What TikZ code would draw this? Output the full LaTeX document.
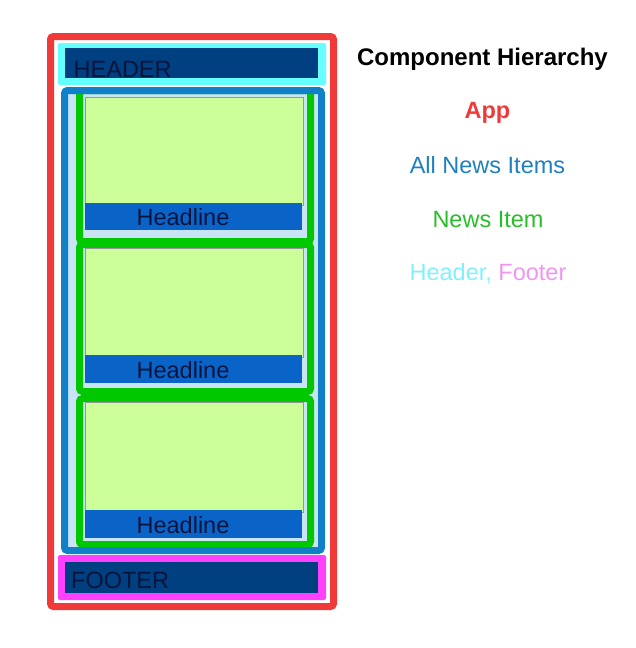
\documentclass[tikz,border=0pt]{standalone}
\usepackage{fontspec}
\setmainfont{Liberation Sans}
\definecolor{appred}{RGB}{240,58,58}
\definecolor{hdrcyan}{RGB}{102,255,255}
\definecolor{barnavy}{RGB}{0,64,128}
\definecolor{listblue}{RGB}{16,128,200}
\definecolor{listfill}{RGB}{200,228,245}
\definecolor{itemgreen}{RGB}{0,200,0}
\definecolor{panelgreen}{RGB}{204,255,153}
\definecolor{panelgray}{RGB}{150,150,150}
\definecolor{headblue}{RGB}{10,100,200}
\definecolor{inktext}{RGB}{10,20,60}
\definecolor{ftrmagenta}{RGB}{255,64,255}
\definecolor{lblblue}{RGB}{30,128,192}
\definecolor{lblgreen}{RGB}{40,190,40}
\definecolor{lblcyan}{RGB}{128,240,255}
\definecolor{lblpink}{RGB}{240,150,240}
\tikzset{
  bigtext/.style={font=\fontsize{23.5}{28}\selectfont, inner sep=0pt},
  appframe/.style={draw=appred, line width=7pt, rounded corners=3pt, fill=white},
  listframe/.style={draw=listblue, line width=7pt, rounded corners=3pt},
  itemframe/.style={draw=itemgreen, line width=7pt, rounded corners=3pt, fill=listfill},
  panel/.style={fill=panelgreen, draw=panelgray, line width=1pt},
  headbar/.style={fill=headblue},
  label/.style={bigtext, anchor=base}
}
\begin{document}
\begin{tikzpicture}[x=1pt,y=-1pt]
  \useasboundingbox (0,0) rectangle (636,648);

  % App frame
  \draw[appframe] (50.5,36.5) rectangle (333.5,606.5);

  % Header
  \fill[hdrcyan, rounded corners=2pt] (58,43) rectangle (326,85);
  \fill[barnavy] (65,48) rectangle (318,78);
  \node[bigtext, anchor=base west, text=inktext] (header) at (73.5,77) {HEADER};

  % All news items: background first, border on top of the items
  \fill[listfill, rounded corners=3pt] (64.5,90.5) rectangle (321.5,550.5);

  % News items: top, bottom, panel top, bar top, bar bottom
  \foreach \i/\t/\b/\p/\hb/\hz in {1/90.5/241.5/97/203/230, 2/244.5/391.5/248/355/383, 3/398.5/544.5/402/510/538} {
    \draw[itemframe] (79.5,\t) rectangle (310.5,\b);
    \draw[panel] (85,\p) rectangle (303.5,\hb+2);
    \fill[headbar] (85,\hb) rectangle (302,\hz);
    \node[bigtext, text=inktext] (headline\i) at (183,{(\hb+\hz)/2+1}) {Headline};
  }

  \draw[listframe] (64.5,90.5) rectangle (321.5,550.5);

  % Footer
  \fill[ftrmagenta, rounded corners=2pt] (58,555) rectangle (326,600);
  \fill[barnavy] (65,562) rectangle (318,593);
  \node[bigtext, anchor=base west, text=inktext] (footer) at (71,588) {FOOTER};

  % Legend
  \node[label, font=\fontsize{24}{29}\selectfont\bfseries] (title) at (482.5,65) {Component Hierarchy};
  \node[label, font=\fontsize{23.5}{28}\selectfont\bfseries, text=appred] (lapp) at (487.5,118) {App};
  \node[label, text=lblblue] (lall) at (487.5,173) {All News Items};
  \node[label, text=lblgreen] (litem) at (488,227) {News Item};
  \node[label] (lhf) at (488,280) {\textcolor{lblcyan}{Header,} \textcolor{lblpink}{Footer}};
\end{tikzpicture}
\end{document}
